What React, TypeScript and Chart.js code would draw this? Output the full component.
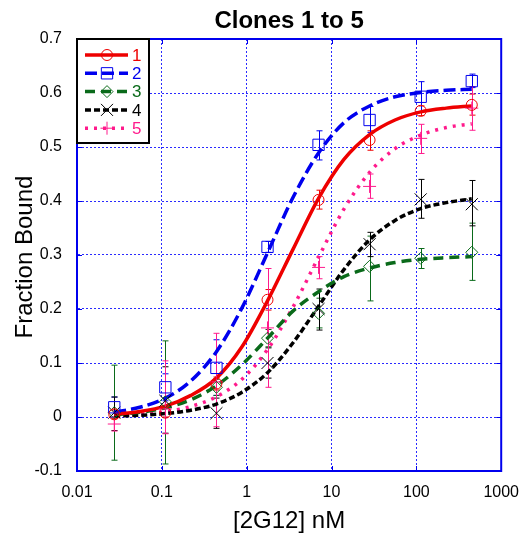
import React, { useEffect, useRef } from "react";
import { Chart, registerables } from "chart.js";

Chart.register(...registerables);

// ---------- data ----------
const seriesNames = ["1", "2", "3", "4", "5"];
const doses = [0.0275, 0.11, 0.44, 1.76, 7.03, 28.1, 112.5, 450];

const clone1 = [0.005, 0.008, 0.062, 0.217, 0.402, 0.513, 0.567, 0.578];
const clone2 = [0.018, 0.055, 0.091, 0.315, 0.504, 0.55, 0.593, 0.622];
const clone3 = [0.008, 0.028, 0.055, 0.146, 0.192, 0.279, 0.294, 0.305];
const clone4 = [0.008, 0.03, 0.007, 0.1, 0.2, 0.32, 0.403, 0.394];
const clone5 = [-0.013, 0.015, 0.065, 0.165, 0.277, 0.427, 0.516, 0.572];

const low1 = [-0.003, 0.0, 0.05, 0.198, 0.385, 0.494, 0.558, 0.559];
const high1 = [0.013, 0.016, 0.074, 0.236, 0.42, 0.53, 0.576, 0.598];
const low2 = [0.0, 0.03, 0.04, 0.305, 0.476, 0.527, 0.565, 0.61];
const high2 = [0.037, 0.08, 0.143, 0.325, 0.53, 0.575, 0.621, 0.635];
const low3 = [-0.08, -0.087, 0.04, 0.13, 0.165, 0.215, 0.275, 0.253];
const high3 = [0.096, 0.141, 0.07, 0.162, 0.22, 0.335, 0.312, 0.359];
const low4 = [-0.025, -0.03, -0.021, 0.072, 0.161, 0.297, 0.368, 0.354];
const high4 = [0.037, 0.093, 0.035, 0.128, 0.237, 0.342, 0.44, 0.438];
const low5 = [-0.026, -0.031, -0.018, 0.055, 0.256, 0.405, 0.488, 0.531];
const high5 = [0.0, 0.104, 0.155, 0.275, 0.297, 0.45, 0.542, 0.612];

const curveDoses = [0.0275, 0.055, 0.11, 0.22, 0.44, 0.88, 1.76, 3.5, 7.03, 14, 28.1, 56, 112.5, 225, 450];
const fit1 = [0.005, 0.01, 0.02, 0.04, 0.072, 0.13, 0.215, 0.31, 0.405, 0.477, 0.523, 0.55, 0.565, 0.572, 0.576];
const fit2 = [0.009, 0.018, 0.035, 0.067, 0.121, 0.202, 0.304, 0.406, 0.489, 0.545, 0.576, 0.593, 0.601, 0.605, 0.607];
const fit3 = [0.0044, 0.0086, 0.017, 0.032, 0.058, 0.097, 0.146, 0.196, 0.232, 0.26, 0.276, 0.286, 0.292, 0.295, 0.297];
const fit4 = [0.0016, 0.0032, 0.0063, 0.0125, 0.024, 0.046, 0.082, 0.137, 0.205, 0.273, 0.328, 0.364, 0.386, 0.397, 0.404];
const fit5 = [0.0025, 0.005, 0.0099, 0.0195, 0.0376, 0.07, 0.125, 0.203, 0.296, 0.385, 0.453, 0.497, 0.522, 0.536, 0.543];

const xTicks = [0.01, 0.1, 1, 10, 100, 1000];
const xTickLabels = ["0.01", "0.1", "1", "10", "100", "1000"];
const yTicks = [-0.1, 0, 0.1, 0.2, 0.3, 0.4, 0.5, 0.6, 0.7];
const yTickLabels = ["-0.1", "0", "0.1", "0.2", "0.3", "0.4", "0.5", "0.6", "0.7"];

const titleText = "Clones 1 to 5";
const xTitle = "[2G12] nM";
const yTitle = "Fraction Bound";

// ---------- styles ----------
const values = [clone1, clone2, clone3, clone4, clone5];
const lows = [low1, low2, low3, low4, low5];
const highs = [high1, high2, high3, high4, high5];
const fits = [fit1, fit2, fit3, fit4, fit5];
const colors = ["#ee0000", "#0000ee", "#0a6a1a", "#000000", "#ff1a8c"];
const dashes = [[], [12, 5], [10, 6], [6, 3], [3, 6]];
const pointStyles = ["circle", "rect", "rectRot", "crossRot", "cross"];
const pointRadii = [5.5, 8, 6, 8.5, 6.5];
const FONT = "'Liberation Sans', Arial, Helvetica, sans-serif";

function drawMarker(ctx: CanvasRenderingContext2D, style: string, x: number, y: number, r: number, color: string) {
  ctx.save();
  ctx.strokeStyle = color;
  ctx.lineWidth = 1;
  ctx.setLineDash([]);
  ctx.beginPath();
  if (style === "circle") {
    ctx.arc(x, y, r, 0, Math.PI * 2);
  } else if (style === "rect") {
    const s = r * Math.SQRT1_2;
    ctx.rect(x - s, y - s, 2 * s, 2 * s);
  } else if (style === "rectRot") {
    ctx.moveTo(x - r, y);
    ctx.lineTo(x, y - r);
    ctx.lineTo(x + r, y);
    ctx.lineTo(x, y + r);
    ctx.closePath();
  } else if (style === "crossRot") {
    const s = r * Math.SQRT1_2;
    ctx.moveTo(x - s, y - s);
    ctx.lineTo(x + s, y + s);
    ctx.moveTo(x - s, y + s);
    ctx.lineTo(x + s, y - s);
  } else {
    ctx.moveTo(x - r, y);
    ctx.lineTo(x + r, y);
    ctx.moveTo(x, y - r);
    ctx.lineTo(x, y + r);
  }
  ctx.stroke();
  ctx.restore();
}

const decor = {
  id: "decor",
  beforeDatasetsDraw(chart: any) {
    const ctx: CanvasRenderingContext2D = chart.ctx;
    const xs = chart.scales.x;
    const ys = chart.scales.y;
    ctx.save();
    ctx.lineWidth = 1;
    ctx.setLineDash([]);
    for (let s = 0; s < 5; s++) {
      ctx.strokeStyle = colors[s];
      for (let i = 0; i < doses.length; i++) {
        const px = Math.round(xs.getPixelForValue(doses[i])) + 0.5;
        const y1 = ys.getPixelForValue(lows[s][i]);
        const y2 = ys.getPixelForValue(highs[s][i]);
        ctx.beginPath();
        ctx.moveTo(px, y1);
        ctx.lineTo(px, y2);
        ctx.moveTo(px - 3, y1);
        ctx.lineTo(px + 3, y1);
        ctx.moveTo(px - 3, y2);
        ctx.lineTo(px + 3, y2);
        ctx.stroke();
      }
    }
    ctx.restore();
  },
  afterDraw(chart: any) {
    const ctx: CanvasRenderingContext2D = chart.ctx;
    const a = chart.chartArea;
    const xs = chart.scales.x;
    const ys = chart.scales.y;
    ctx.save();
    // frame
    ctx.strokeStyle = "#0000ee";
    ctx.lineWidth = 2;
    ctx.setLineDash([]);
    ctx.strokeRect(a.left, a.top, a.right - a.left, a.bottom - a.top);
    // inner tick marks
    ctx.lineWidth = 1;
    ctx.beginPath();
    for (const v of xTicks) {
      const px = Math.round(xs.getPixelForValue(v)) + 0.5;
      ctx.moveTo(px, a.top);
      ctx.lineTo(px, a.top + 5);
      ctx.moveTo(px, a.bottom);
      ctx.lineTo(px, a.bottom - 5);
    }
    for (const v of yTicks) {
      const py = Math.round(ys.getPixelForValue(v)) + 0.5;
      ctx.moveTo(a.left, py);
      ctx.lineTo(a.left + 5, py);
      ctx.moveTo(a.right, py);
      ctx.lineTo(a.right - 5, py);
    }
    ctx.stroke();

    // legend
    const lx = a.left, ly = a.top, lw = 72, lh = 104;
    ctx.fillStyle = "#ffffff";
    ctx.fillRect(lx, ly, lw, lh);
    ctx.strokeStyle = "#000000";
    ctx.lineWidth = 2;
    ctx.strokeRect(lx, ly, lw, lh);
    ctx.font = `17px ${FONT}`;
    ctx.textAlign = "left";
    ctx.textBaseline = "middle";
    for (let s = 0; s < 5; s++) {
      const yy = ly + 16 + s * 18.3;
      ctx.strokeStyle = colors[s];
      ctx.lineWidth = 3.5;
      ctx.setLineDash(dashes[s]);
      ctx.beginPath();
      ctx.moveTo(lx + 8, yy);
      ctx.lineTo(lx + 51, yy);
      ctx.stroke();
      ctx.setLineDash([]);
      drawMarker(ctx, pointStyles[s], lx + 30, yy, pointRadii[s], colors[s]);
      ctx.fillStyle = colors[s];
      ctx.fillText(seriesNames[s], lx + 55, yy + 1);
    }

    // titles
    ctx.fillStyle = "#000000";
    ctx.textAlign = "center";
    ctx.textBaseline = "middle";
    ctx.font = `bold 24px ${FONT}`;
    ctx.fillText(titleText, (a.left + a.right) / 2, 21);
    ctx.font = `24px ${FONT}`;
    ctx.fillText(xTitle, (a.left + a.right) / 2, 521);
    ctx.save();
    ctx.translate(25, 257);
    ctx.rotate(-Math.PI / 2);
    ctx.fillText(yTitle, 0, 0);
    ctx.restore();
    ctx.restore();
  },
};

export default function App() {
  const canvasRef = useRef<HTMLCanvasElement | null>(null);

  useEffect(() => {
    if (!canvasRef.current) return;
    const datasets: any[] = [];
    for (let s = 0; s < 5; s++) {
      datasets.push({
        label: seriesNames[s] + " data",
        data: doses.map((x, i) => ({ x, y: values[s][i] })),
        showLine: false,
        pointStyle: pointStyles[s],
        pointRadius: pointRadii[s],
        pointBorderWidth: 1,
        pointBorderColor: colors[s],
        pointBackgroundColor: "rgba(0,0,0,0)",
        borderColor: colors[s],
      });
    }
    for (let s = 0; s < 5; s++) {
      datasets.push({
        label: seriesNames[s],
        data: curveDoses.map((x, i) => ({ x, y: fits[s][i] })),
        showLine: true,
        borderColor: colors[s],
        borderWidth: 3.5,
        borderDash: dashes[s],
        pointRadius: 0,
        fill: false,
        cubicInterpolationMode: "monotone",
      });
    }

    const chart = new Chart(canvasRef.current, {
      type: "line",
      data: { datasets },
      options: {
        responsive: false,
        animation: false,
        devicePixelRatio: 1,
        layout: { padding: { top: 39, right: 21, left: 0, bottom: 0 } },
        plugins: {
          legend: { display: false },
          tooltip: { enabled: false },
          title: { display: false },
        },
        scales: {
          x: {
            type: "logarithmic",
            min: 0.01,
            max: 1000,
            afterBuildTicks: (scale: any) => {
              scale.ticks = xTicks.map((v) => ({ value: v }));
            },
            afterFit: (scale: any) => {
              scale.height = 62;
            },
            ticks: {
              autoSkip: false,
              maxRotation: 0,
              padding: 12,
              color: "#000000",
              font: { family: FONT, size: 16 },
              callback: (_v: any, i: number) => xTickLabels[i],
            },
            grid: { color: "#2a2aff", lineWidth: 1, drawTicks: false },
            border: { display: true, color: "#0000ee", width: 2, dash: [2, 2] },
          },
          y: {
            type: "linear",
            min: -0.1,
            max: 0.7,
            afterBuildTicks: (scale: any) => {
              scale.ticks = yTicks.map((v) => ({ value: v }));
            },
            afterFit: (scale: any) => {
              scale.width = 77;
            },
            ticks: {
              autoSkip: false,
              padding: 15,
              color: "#000000",
              font: { family: FONT, size: 16 },
              callback: (_v: any, i: number) => yTickLabels[i],
            },
            grid: { color: "#2a2aff", lineWidth: 1, drawTicks: false },
            border: { display: true, color: "#0000ee", width: 2, dash: [2, 2] },
          },
        },
      },
      plugins: [decor],
    } as any);

    return () => chart.destroy();
  }, []);

  return (
    <div style={{ position: "fixed", left: 0, top: 0, width: 531, height: 533, background: "#ffffff" }}>
      <canvas ref={canvasRef} width={531} height={533} style={{ display: "block" }} />
    </div>
  );
}
